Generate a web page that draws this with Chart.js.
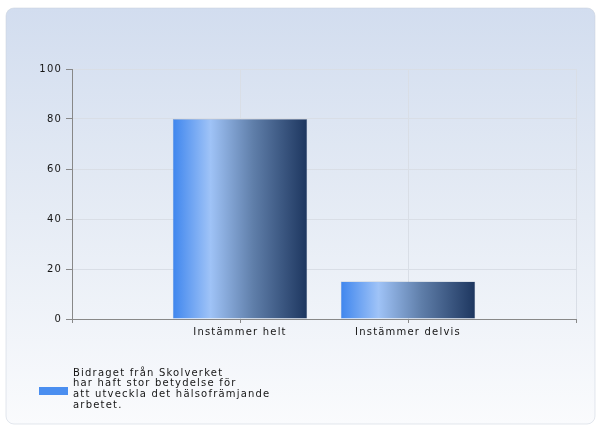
<!DOCTYPE html>
<html>
<head>
<meta charset="utf-8">
<script src="https://cdn.jsdelivr.net/npm/chart.js@4/dist/chart.umd.min.js"></script>
<style>
  html, body { margin: 0; padding: 0; background: #fff; }
  #wrap { width: 596px; height: 427px; }
</style>
</head>
<body>
<div id="wrap"><canvas id="myChart"></canvas></div>
<script>
// data
const categories = ['', 'Instämmer helt', 'Instämmer delvis', ''];
const values = [null, 80, 15, null];
const yTicks = [0, 20, 40, 60, 80, 100];
const legendLines = ['Bidraget från Skolverket', 'har haft stor betydelse för', 'att utveckla det hälsofrämjande', 'arbetet.'];

const FONT = 'DejaVu Sans';
const SPACING = '1.2px';
const TEXT = '#151515';

function barGradient(c) {
  const chart = c.chart;
  const xs = chart.scales.x;
  if (!xs || c.dataIndex == null) return '#4a8ef0';
  const step = xs.getPixelForValue(1) - xs.getPixelForValue(0);
  const mid = xs.getPixelForValue(c.dataIndex);
  const w = step * 0.8;
  if (!isFinite(step) || !isFinite(mid) || w <= 0) return '#4a8ef0';
  const g = chart.ctx.createLinearGradient(mid - w / 2, 0, mid + w / 2, 0);
  g.addColorStop(0, '#3f86ee');
  g.addColorStop(0.28, '#9fc3f7');
  g.addColorStop(0.6, '#5f7ea9');
  g.addColorStop(1, '#1d365f');
  return g;
}

const panelPlugin = {
  id: 'panel',
  beforeUpdate(chart) { chart.ctx.letterSpacing = SPACING; },
  beforeDraw(chart) {
    const ctx = chart.ctx;
    ctx.save();
    ctx.fillStyle = '#fff';
    ctx.fillRect(0, 0, chart.width, chart.height);
    const g = ctx.createLinearGradient(0, 8, 0, 425);
    g.addColorStop(0, '#d2ddef');
    g.addColorStop(0.5, '#e6ecf5');
    g.addColorStop(1, '#fafbfd');
    ctx.fillStyle = g;
    ctx.beginPath();
    ctx.roundRect(6, 8, 589, 416, 8);
    ctx.fill();
    ctx.strokeStyle = 'rgba(200,208,220,0.5)';
    ctx.stroke();
    ctx.restore();
    ctx.letterSpacing = SPACING;
  },
  afterDraw(chart) {
    const ctx = chart.ctx;
    const ds = chart.data.datasets[0];
    ctx.save();
    ctx.letterSpacing = SPACING;
    ctx.fillStyle = '#4a8ef0';
    ctx.fillRect(39, 387, 29, 8);
    ctx.fillStyle = TEXT;
    ctx.font = '10px "' + FONT + '"';
    ctx.textBaseline = 'middle';
    ctx.textAlign = 'left';
    ds.label.forEach((line, i) => ctx.fillText(line, 73, 373 + i * 10.8));
    ctx.restore();
  }
};

const ctx = document.getElementById('myChart');
new Chart(ctx, {
  type: 'bar',
  data: {
    labels: categories,
    datasets: [{
      label: legendLines,
      data: values,
      backgroundColor: barGradient,
      borderColor: 'rgba(30,50,80,0.35)',
      borderWidth: 0.5,
      barPercentage: 0.8,
      categoryPercentage: 1
    }]
  },
  options: {
    responsive: true,
    maintainAspectRatio: false,
    animation: false,
    layout: { padding: { left: 0, top: 69, right: 20, bottom: 78 } },
    plugins: {
      legend: { display: false },
      tooltip: { enabled: false }
    },
    scales: {
      x: {
        offset: false,
        afterFit: s => { s.height = 30; },
        grid: { color: '#d9dee6', tickColor: '#888', tickLength: 4, offset: false },
        border: { color: '#888' },
        ticks: { color: TEXT, padding: 3, maxRotation: 0, autoSkip: false, font: { family: FONT, size: 10 } }
      },
      y: {
        min: 0,
        max: 100,
        afterFit: s => { s.width = 72; },
        afterBuildTicks: s => { s.ticks = yTicks.map(v => ({ value: v })); },
        grid: { color: '#d9dee6', tickColor: '#888', tickLength: 6 },
        border: { color: '#888' },
        ticks: { color: TEXT, padding: 4, font: { family: FONT, size: 10 } }
      }
    }
  },
  plugins: [panelPlugin]
});
</script>
</body>
</html>
